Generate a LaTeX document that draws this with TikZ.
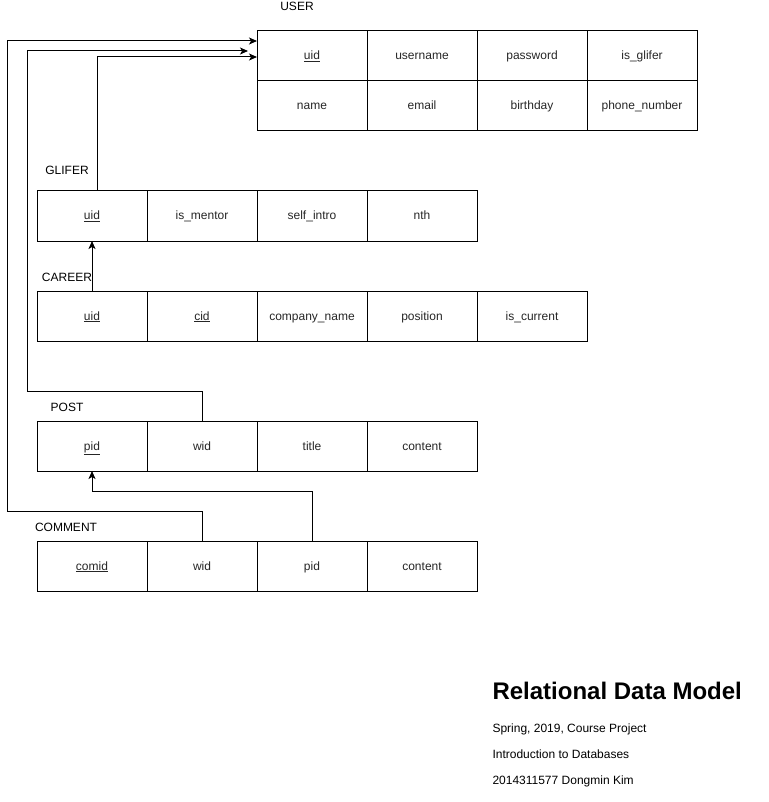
\documentclass[tikz,border=0pt]{standalone}
\usepackage{fontspec}
\setmainfont{Liberation Sans}
\usepackage{tikz}
\usetikzlibrary{arrows.meta,positioning}

\begin{document}
\begin{tikzpicture}[x=1pt,y=-1pt,every path/.style={line width=1pt}]
  \tikzset{field/.style={draw,minimum width=110pt,minimum height=50pt,inner sep=0pt,outer sep=0pt,
      text height=9pt,text depth=1pt,font=\fontsize{12}{14}\selectfont,text=black!85}};
  \tikzset{tname/.style={font=\fontsize{12}{14}\selectfont,inner sep=0pt,text height=9pt,text depth=1pt}};
  \tikzset{fk/.style={-{Stealth[length=8pt,width=7pt,inset=2pt]}}};
  \useasboundingbox (0,0) rectangle (768,802);
  % USER
  \node[tname] (usert) at (297,7) {USER};
  \node[field] (useruid) at (312,56) {\underline{uid}};
  \node[field,right=0pt of useruid] (userusername) {username};
  \node[field,right=0pt of userusername] (userpassword) {password};
  \node[field,right=0pt of userpassword] (userglifer) {is\_glifer};
  \node[field,below=0pt of useruid] (username) {name};
  \node[field,right=0pt of username] (useremail) {email};
  \node[field,right=0pt of useremail] (userbirthday) {birthday};
  \node[field,right=0pt of userbirthday] (userphone) {phone\_number};
  % GLIFER
  \node[tname] (glifert) at (67,171) {GLIFER};
  \node[field] (gliferuid) at (92,216) {\underline{uid}};
  \node[field,right=0pt of gliferuid] (glifermentor) {is\_mentor};
  \node[field,right=0pt of glifermentor] (gliferintro) {self\_intro};
  \node[field,right=0pt of gliferintro] (glifernth) {nth};
  % CAREER
  \node[tname] (careert) at (67,277) {CAREER};
  \node[field] (careeruid) at (92,316) {\underline{uid}};
  \node[field,right=0pt of careeruid] (careercid) {\underline{cid}};
  \node[field,right=0pt of careercid] (careercompany) {company\_name};
  \node[field,right=0pt of careercompany] (careerposition) {position};
  \node[field,right=0pt of careerposition] (careercurrent) {is\_current};
  % POST
  \node[tname] (postt) at (67,407) {POST};
  \node[field] (postpid) at (92,446) {\underline{pid}};
  \node[field,right=0pt of postpid] (postwid) {wid};
  \node[field,right=0pt of postwid] (posttitle) {title};
  \node[field,right=0pt of posttitle] (postcontent) {content};
  % COMMENT
  \node[tname] (commentt) at (66,527) {COMMENT};
  \node[field] (commentid) at (92,566) {\underline{comid}};
  \node[field,right=0pt of commentid] (commentwid) {wid};
  \node[field,right=0pt of commentwid] (commentpid) {pid};
  \node[field,right=0pt of commentpid] (commentcontent) {content};
  % foreign keys
  \draw[fk] (commentwid.north) -- (202,511) -- (7,511) -- (7,41) -- ([yshift=15pt]useruid.west);
  \draw[fk] (postwid.north) -- (202,391) -- (27,391) -- (27,51) -- ([xshift=-9pt,yshift=5pt]useruid.west);
  \draw[fk] ([xshift=5pt]gliferuid.north) |- ([yshift=-1pt]useruid.west);
  \draw[fk] (careeruid.north) -- (gliferuid.south);
  \draw[fk] (commentpid.north) -- (312,491) -| (postpid.south);
  % caption
  \node[anchor=base west,inner sep=0pt,font=\fontsize{24}{28}\selectfont\bfseries] (title) at (492,699) {Relational Data Model};
  \node[anchor=base west,inner sep=0pt,font=\fontsize{12}{14}\selectfont] (term) at (492,732) {Spring, 2019, Course Project};
  \node[anchor=base west,inner sep=0pt,font=\fontsize{12}{14}\selectfont] (course) at (492,758) {Introduction to Databases};
  \node[anchor=base west,inner sep=0pt,font=\fontsize{12}{14}\selectfont] (author) at (492,784) {2014311577 Dongmin Kim};
\end{tikzpicture}
\end{document}
